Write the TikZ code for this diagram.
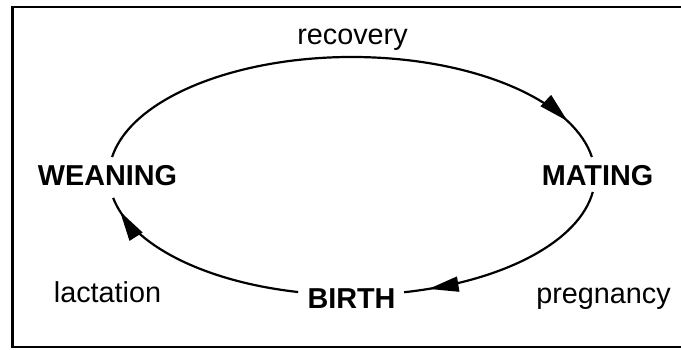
\documentclass[tikz,border=0pt]{standalone}
\usepackage{fontspec}
\setmainfont{Liberation Sans}
\usetikzlibrary{calc,arrows.meta,decorations.markings}

\tikzset{
	stage/.style={font=\fontsize{28.8}{32}\selectfont\bfseries, inner sep=0pt, anchor=base},
	phase/.style={font=\fontsize{28.8}{32}\selectfont, inner sep=0pt, anchor=base},
	cyclehead/.tip={Triangle[length=30pt, width=15pt]},
	cyclearc/.style={line width=2.2pt, postaction={decorate},
		decoration={markings, mark=at position #1 with {\arrow{cyclehead}}}},
	frame/.style={line width=2.6pt},
}

\begin{document}
\begin{tikzpicture}[x=1pt, y=1pt]
	\useasboundingbox (0,0) rectangle (681,349);
	\draw[frame] (12.5,2) rectangle (690,342);
	
	\coordinate (c) at (352,173);
	\coordinate (wtop) at ($(c)+(170.8:243pt and 119pt)$);
	\coordinate (mbot) at ($(c)+(352.3:243pt and 119pt)$);
	\coordinate (bleft) at ($(c)+(257.2:243pt and 119pt)$);
	
	\node[stage] (weaning) at (107.5,164) {WEANING};
	\node[stage] (mating) at (597.5,164) {MATING};
	\node[stage] (birth) at (351.5,40.5) {BIRTH};
	
	\node[phase] (recovery) at (352.5,304) {recovery};
	\node[phase] (pregnancy) at (603.5,46) {pregnancy};
	\node[phase] (lactation) at (107.5,47) {lactation};
	
	\draw[cyclearc=0.92] (wtop) arc[start angle=170.8, end angle=9.2, x radius=243pt, y radius=119pt];
	\draw[cyclearc=0.89] (mbot) arc[start angle=352.3, end angle=282.4, x radius=243pt, y radius=119pt];
	\draw[cyclearc=0.93] (bleft) arc[start angle=257.2, end angle=190.6, x radius=243pt, y radius=119pt];
\end{tikzpicture}
\end{document}
